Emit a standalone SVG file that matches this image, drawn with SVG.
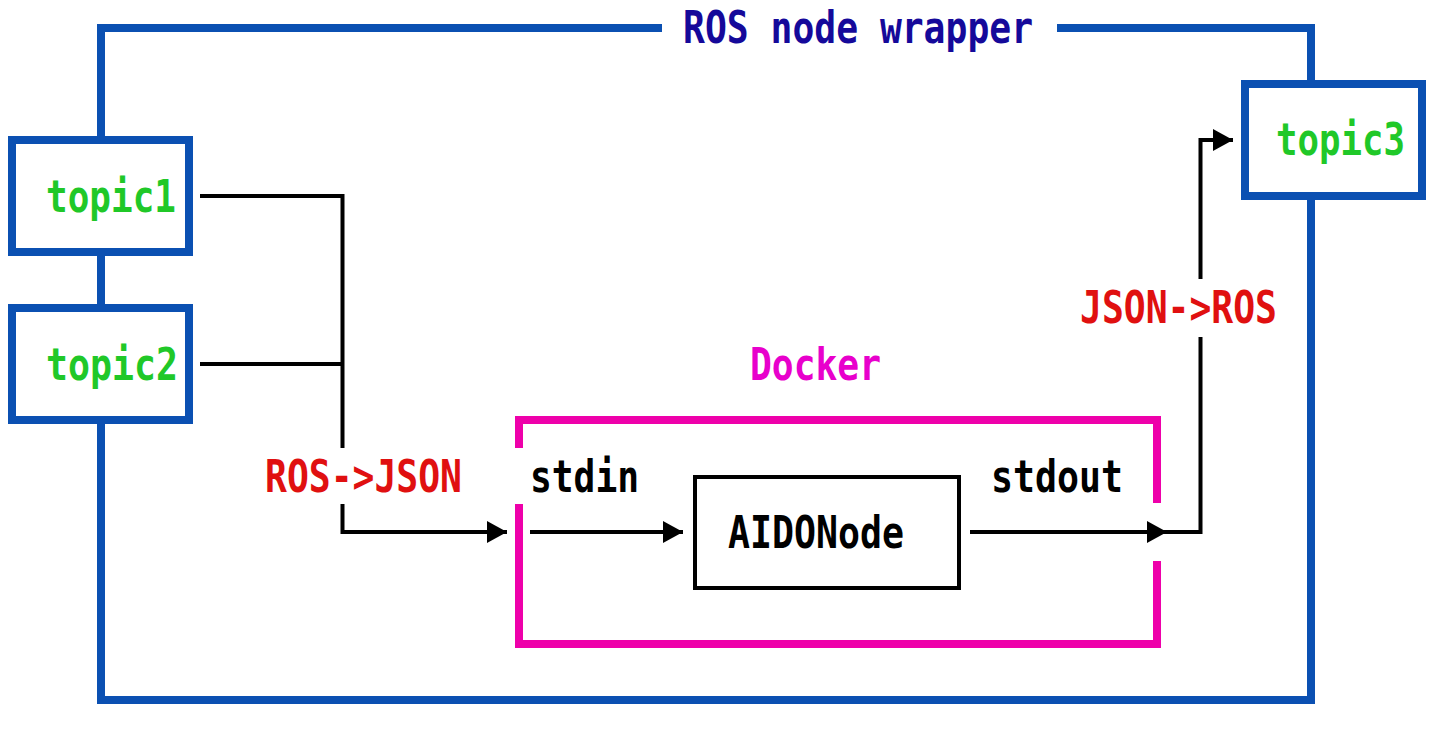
<svg xmlns="http://www.w3.org/2000/svg" width="1432" height="730" viewBox="0 0 1432 730">
<style>
text{font-family:"DejaVu Sans Mono","Liberation Mono",monospace;font-size:44px;font-weight:bold}
.frame{fill:none;stroke:#0b50b2;stroke-width:8}
.topic{fill:#fff;stroke:#0b50b2;stroke-width:8}
.tl{fill:#20c828}
.red{fill:#e01010}
.blk{fill:#000}
.conn{fill:none;stroke:#000;stroke-width:4}
.dock{fill:none;stroke:#ee00aa;stroke-width:8}
</style>
<defs>
<marker id="ah" markerUnits="userSpaceOnUse" markerWidth="20" markerHeight="22" refX="20" refY="11" orient="auto">
<polygon points="0,0 20,11 0,22" fill="#000"/>
</marker>
</defs>
<rect width="1432" height="730" fill="#fff"/>
<g id="wrapper">
<path class="frame" d="M662,28 H101 V700 H1311 V28 H1057"/>
<text x="683" y="43" fill="#15099a" textLength="350" lengthAdjust="spacingAndGlyphs">ROS node wrapper</text>
</g>
<g id="docker">
<path class="dock" d="M519,448 V420 H1157 V503 M1157,561 V644 H519 V504"/>
<text x="750" y="380" fill="#e800cc" textLength="131" lengthAdjust="spacingAndGlyphs">Docker</text>
</g>
<g id="topic1">
<rect class="topic" x="12" y="140" width="177" height="112"/>
<text class="tl" x="46" y="212" textLength="130" lengthAdjust="spacingAndGlyphs">topic1</text>
</g>
<g id="topic2">
<rect class="topic" x="12" y="308" width="177" height="112"/>
<text class="tl" x="46" y="380" textLength="132" lengthAdjust="spacingAndGlyphs">topic2</text>
</g>
<g id="topic3">
<rect class="topic" x="1245" y="84" width="177" height="112"/>
<text class="tl" x="1276" y="155" textLength="129" lengthAdjust="spacingAndGlyphs">topic3</text>
</g>
<g id="aidonode">
<rect x="695" y="477" width="264" height="111" fill="#fff" stroke="#000" stroke-width="4"/>
<text class="blk" x="728" y="548" textLength="176" lengthAdjust="spacingAndGlyphs">AIDONode</text>
</g>
<g id="connectors">
<path class="conn" d="M200,196 H342.5 V448"/>
<path class="conn" d="M200,364 H342.5"/>
<path class="conn" d="M342.5,504 V532 H507" marker-end="url(#ah)"/>
<path class="conn" d="M530,532 H683" marker-end="url(#ah)"/>
<path class="conn" d="M970,532 H1167" marker-end="url(#ah)"/>
<path class="conn" d="M1167,532 H1200.5 V337"/>
<path class="conn" d="M1200.5,279 V140 H1233" marker-end="url(#ah)"/>
<text class="red" x="265" y="492" textLength="197" lengthAdjust="spacingAndGlyphs">ROS-&gt;JSON</text>
<text class="red" x="1080" y="323" textLength="197" lengthAdjust="spacingAndGlyphs">JSON-&gt;ROS</text>
<text class="blk" x="530" y="492" textLength="109" lengthAdjust="spacingAndGlyphs">stdin</text>
<text class="blk" x="991" y="492" textLength="132" lengthAdjust="spacingAndGlyphs">stdout</text>
</g>
</svg>
